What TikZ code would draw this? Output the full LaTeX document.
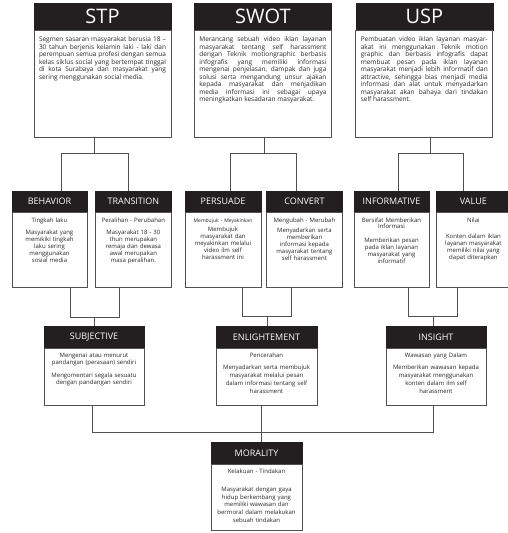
\documentclass[tikz,border=0pt]{standalone}
\usepackage{fontspec}
\setmainfont{Open Sans}
\usepackage{xcolor}
\usepackage{tikz}
\usetikzlibrary{positioning,calc}
\definecolor{headblack}{RGB}{35,31,32}
\definecolor{linegray}{RGB}{80,80,80}
\definecolor{textgray}{RGB}{40,40,40}
\newcommand{\nohyph}{\hyphenpenalty=10000\relax}

\begin{document}
\begin{tikzpicture}[x=1pt, y=-1pt,
    bighead/.style={rectangle, draw=headblack, fill=headblack, text=white,
                 minimum width=#1, minimum height=27pt, inner sep=0pt,
                 font=\fontsize{20}{20}\selectfont},
    head/.style={rectangle, draw=headblack, fill=headblack, text=white,
                 minimum width=#1, minimum height=21pt, inner sep=0pt,
                 font=\fontsize{9}{9}\selectfont},
    topbody/.style={rectangle, draw=linegray, line width=0.8pt, fill=white,
                 text width=127pt, inner xsep=5pt, inner ysep=6pt,
                 text height=5pt, text depth=90pt, align=justify, text=textgray,
                 font=\fontsize{6.5}{6.2}\selectfont\nohyph},
    body/.style={rectangle, draw=linegray, line width=0.8pt, fill=white,
                 text width=#1, inner xsep=0pt, inner ysep=5pt,
                 text height=4.5pt, align=center, text=textgray,
                 font=\fontsize{6}{6.8}\selectfont},
    link/.style={draw=linegray, line width=0.8pt},
    node distance=0pt
]
\useasboundingbox (0,0) rectangle (507,533);

% top row
\node[bighead=137pt] (stp) at (102.5,16.5) {STP};
\node[bighead=137pt, right=23pt of stp] (swot) {SWOT};
\node[bighead=137pt, right=24pt of swot] (usp) {USP};
\node[topbody, below=of stp] (stpb) {Segmen sasaran masyarakat berusia 18 – 30 tahun berjenis kelamin laki - laki dan perempuan semua profesi dengan semua kelas siklus social yang bertempat tinggal di kota Surabaya dan masyarakat yang sering menggunakan social media.};
\node[topbody, below=of swot] (swotb) {Merancang sebuah video iklan layanan masyarakat tentang self harassment dengan Teknik motiongraphic berbasis infografis yang memiliki informasi mengenai penjelasan, dampak dan juga solusi serta mengandung unsur ajakan kepada masyarakat dan menjadikan media informasi ini sebagai upaya meningkatkan kesadaran masyarakat.};
\node[topbody, below=of usp] (uspb) {Pembuatan video iklan layanan masyar-akat ini menggunakan Teknik motion graphic dan berbasis infografis dapat membuat pesan pada iklan layanan masyarakat menjadi lebih informatif dan attractive, sehingga bias menjadi media informasi dan alat untuk menyadarkan masyarakat akan bahaya dari tindakan self harassment.};

% second row
\node[head=75pt] (beh) at (49.5,201.5) {BEHAVIOR};
\node[head=76pt, right=8pt of beh] (tra) {TRANSITION};
\node[head=76pt] (per) at (223,201.5) {PERSUADE};
\node[head=76pt, right=5pt of per] (con) {CONVERT};
\node[head=75pt] (inf) at (391.5,201.5) {INFORMATIVE};
\node[head=74pt, right=7pt of inf] (val) {VALUE};
\node[body=75pt, text depth=60.5pt, below=of beh] (behb) {Tingkah laku\\[6pt] Masyarakat yang\\ memikiki tingkah\\ laku sering\\ menggunakan\\ sosial media};
\node[body=76pt, text depth=60.5pt, below=of tra] (trab) {Peralihan - Perubahan\\[6pt] Masyarakat 18 - 30\\ thun merupakan\\ remaja dan dewasa\\ awal merupakan\\ masa peralihan.};
\node[body=76pt, text depth=60.5pt, below=of per] (perb) {{\fontsize{5}{6}\selectfont Membujuk - Meyakinkan}\\[3pt] Membujuk\\ masyarakat dan\\ meyakinkan melalui\\ video ilm self\\ harassment ini};
\node[body=76pt, text depth=60.5pt, below=of con] (conb) {Mengubah - Merubah\\[4pt] Menyadarkan serta\\ memberikan\\ informasi kepada\\ masyarakat tentang\\ self harassment};
\node[body=75pt, text depth=60.5pt, below=of inf] (infb) {Bersifat Memberikan\\ Informasi\\[7pt] Memberikan pesan\\ pada iklan layanan\\ masyarakat yang\\ informatif};
\node[body=74pt, text depth=60.5pt, below=of val] (valb) {Nilai\\[10pt] Konten dalam iklan\\ layanan masyarakat\\ memiliki nilai yang\\ dapat diterapkan};

% third row
\node[head=100pt] (subj) at (94,337) {SUBJECTIVE};
\node[head=101pt] (enl) at (266.5,337) {ENLIGHTEMENT};
\node[head=100pt] (ins) at (436,337) {INSIGHT};
\node[body=100pt, text depth=43pt, below=of subj, font=\fontsize{6}{7.2}\selectfont] (subjb) {Mengenai atau menurut\\ pandangan (perasaan) sendiri\\[5pt] Mengomentari segala sesuatu\\ dengan pandangan sendiri};
\node[body=101pt, text depth=43pt, below=of enl, font=\fontsize{6}{8}\selectfont] (enlb) {Pencerahan\\[4pt] Menyadarkan serta membujuk\\ masyarakat melalui pesan\\ dalam informasi tentang self\\ harassment};
\node[body=100pt, text depth=43pt, below=of ins, font=\fontsize{6}{8}\selectfont] (insb) {Wawasan yang Dalam\\[4pt] Memberikan wawasan kepada\\ masyarakat menggunakan\\ konten dalam ilm self\\ harassment};

% bottom
\node[head=91pt] (mor) at (256.5,453) {MORALITY};
\node[body=91pt, text depth=52pt, below=of mor, font=\fontsize{6}{7.7}\selectfont] (morb) {Kelakuan - Tindakan\\[10pt] Masyarakat dengan gaya\\ hidup berkembang yang\\ memiliki wawasan dan\\ bermoral dalam melakukan\\ sebuah tindakan};

% connectors
\coordinate (stpj) at (94,153);
\coordinate (swotj) at (264,153);
\coordinate (uspj) at (430,153);
\draw[link] (stpb.south -| stpj) -- (stpj);
\draw[link] ([xshift=11.5pt]beh.north) |- (stpj);
\draw[link] ([xshift=-5pt]tra.north) |- (stpj);
\draw[link] (swotb.south -| swotj) -- (swotj);
\draw[link] ([xshift=7pt]per.north) |- (swotj);
\draw[link] ([xshift=-8pt]con.north) |- (swotj);
\draw[link] (uspb.south -| uspj) -- (uspj);
\draw[link] ([xshift=6.5pt]inf.north) |- (uspj);
\draw[link] ([xshift=-10pt]val.north) |- (uspj);

\coordinate (subjj) at (94,317);
\coordinate (enlj) at (267,316);
\coordinate (insj) at (433,316);
\draw[link] ([xshift=21pt]behb.south) |- (subjj);
\draw[link] ([xshift=-14pt]trab.south) |- (subjj);
\draw[link] (subjj) -- (subj.north -| subjj);
\draw[link] ([xshift=19pt]perb.south) |- (enlj);
\draw[link] ([xshift=-13pt]conb.south) |- (enlj);
\draw[link] (enlj) -- (enl.north -| enlj);
\draw[link] ([xshift=16.5pt]infb.south) |- (insj);
\draw[link] ([xshift=-16pt]valb.south) |- (insj);
\draw[link] (insj) -- (ins.north -| insj);

\coordinate (morj) at (261,432);
\draw[link] ([xshift=-2pt]subjb.south) |- (morj);
\draw[link] ([xshift=-3pt]insb.south) |- (morj);
\draw[link] (enlb.south -| morj) -- (mor.north -| morj);
\end{tikzpicture}
\end{document}
